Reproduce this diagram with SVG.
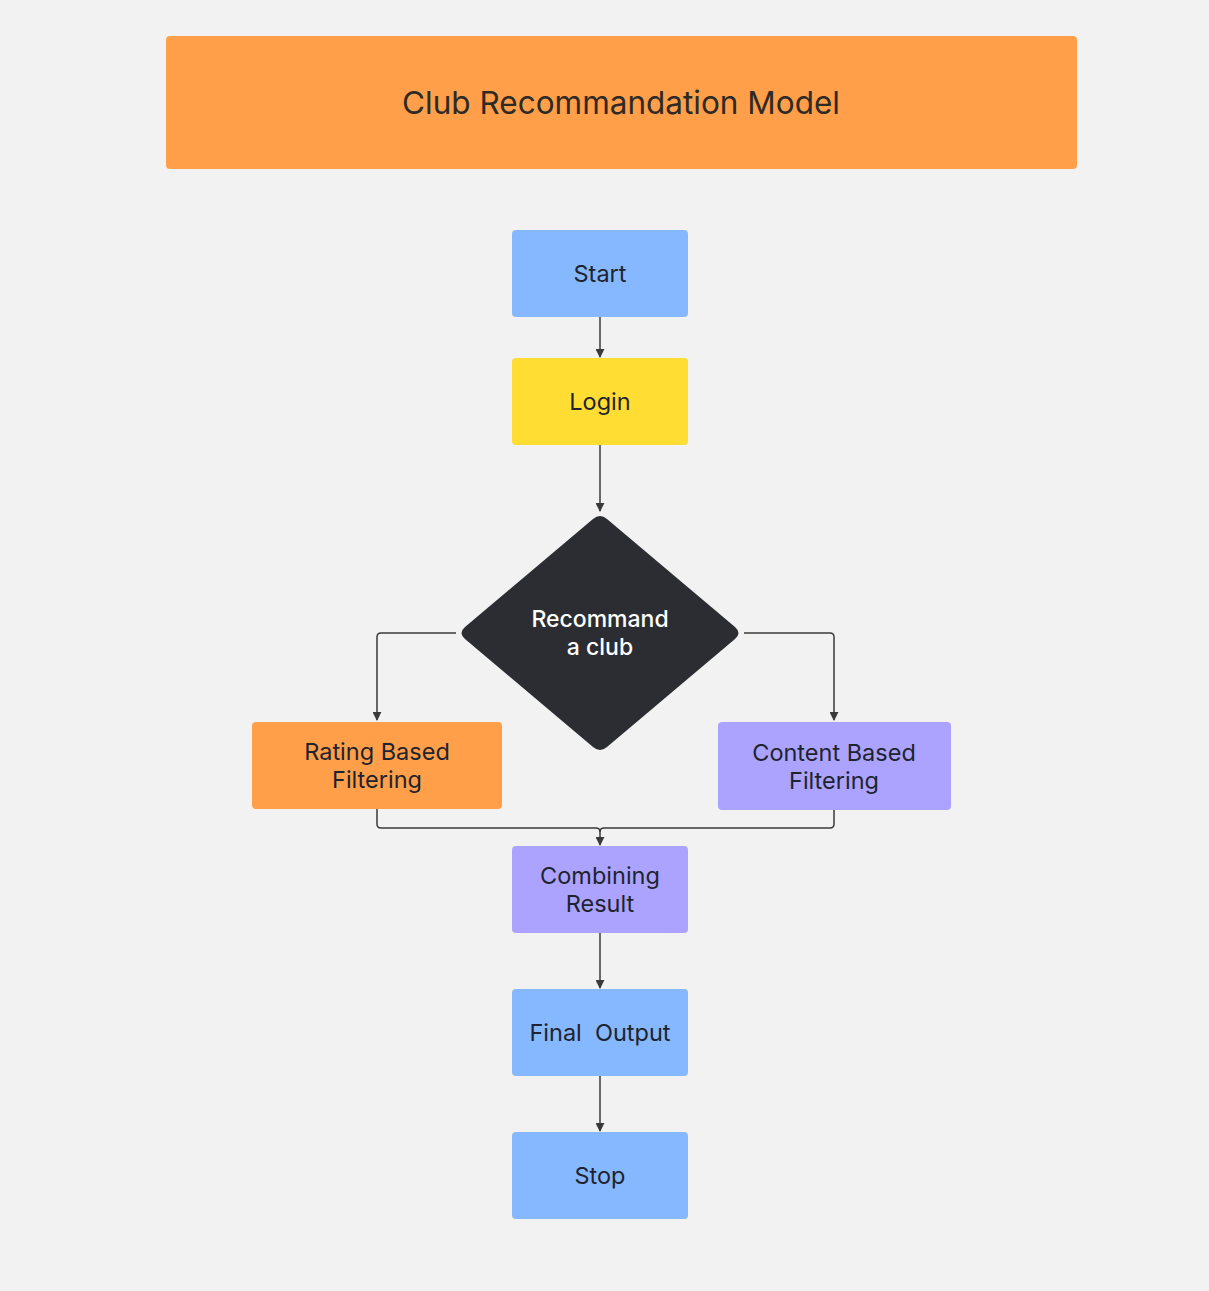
<svg xmlns="http://www.w3.org/2000/svg" width="1209" height="1291" viewBox="0 0 1209 1291">
<defs>
<style>
.lbl{font-family:Inter,"Open Sans","Liberation Sans",sans-serif;font-size:23.5px;fill:#1e232d;text-anchor:middle}
.ttl{font-family:Inter,"Open Sans","Liberation Sans",sans-serif;font-size:31.5px;fill:#2e2a25;text-anchor:middle}
.wht{font-family:Inter,"Open Sans","Liberation Sans",sans-serif;font-size:23px;font-weight:500;fill:#ffffff;text-anchor:middle}
.conn{fill:none;stroke:#3a3a3a;stroke-width:1.5}
.blue{fill:#86b8ff}
.yel{fill:#ffdd33}
.org{fill:#ff9f4a}
.pur{fill:#aba3ff}
</style>
<marker id="arr" viewBox="0 0 10 10" refX="9" refY="5" markerWidth="9" markerHeight="9" markerUnits="userSpaceOnUse" orient="auto">
<path d="M0,0 L10,5 L0,10 z" fill="#3a3a3a"/>
</marker>
</defs>
<rect width="1209" height="1291" fill="#f2f2f2"/>
<g id="title">
<rect x="166" y="36" width="911" height="133" rx="4" class="org"/>
<text x="621" y="114" class="ttl">Club Recommandation Model</text>
</g>
<g id="connectors">
<path class="conn" d="M600,317 V357" marker-end="url(#arr)"/>
<path class="conn" d="M600,445 V511" marker-end="url(#arr)"/>
<path class="conn" d="M456,633 H381 Q377,633 377,637 V720" marker-end="url(#arr)"/>
<path class="conn" d="M744,633 H830 Q834,633 834,637 V720" marker-end="url(#arr)"/>
<path class="conn" d="M377,809 V824 Q377,828 381,828 H596 Q600,828 600,832 V845" marker-end="url(#arr)"/>
<path class="conn" d="M834,810 V824 Q834,828 830,828 H604 Q600,828 600,832"/>
<path class="conn" d="M600,933 V988" marker-end="url(#arr)"/>
<path class="conn" d="M600,1076 V1131" marker-end="url(#arr)"/>
</g>
<g id="start">
<rect x="512" y="230" width="176" height="87" rx="4" class="blue"/>
<text x="600" y="282" class="lbl">Start</text>
</g>
<g id="login">
<rect x="512" y="358" width="176" height="87" rx="4" class="yel"/>
<text x="600" y="410" class="lbl">Login</text>
</g>
<g id="decision">
<path d="M593,519 Q600,513 607,519 L735,627 Q742,633 735,639 L607,747 Q600,753 593,747 L465,639 Q458,633 465,627 Z" fill="#2b2d33"/>
<text x="600" y="627" class="wht">Recommand</text>
<text x="600" y="655" class="wht">a club</text>
</g>
<g id="rating">
<rect x="252" y="722" width="250" height="87" rx="4" class="org"/>
<text x="377" y="760" class="lbl">Rating Based</text>
<text x="377" y="788" class="lbl">Filtering</text>
</g>
<g id="content">
<rect x="718" y="722" width="233" height="88" rx="4" class="pur"/>
<text x="834" y="761" class="lbl">Content Based</text>
<text x="834" y="789" class="lbl">Filtering</text>
</g>
<g id="combining">
<rect x="512" y="846" width="176" height="87" rx="4" class="pur"/>
<text x="600" y="884" class="lbl">Combining</text>
<text x="600" y="912" class="lbl">Result</text>
</g>
<g id="final">
<rect x="512" y="989" width="176" height="87" rx="4" class="blue"/>
<text x="600" y="1041" class="lbl" xml:space="preserve">Final  Output</text>
</g>
<g id="stop">
<rect x="512" y="1132" width="176" height="87" rx="4" class="blue"/>
<text x="600" y="1184" class="lbl">Stop</text>
</g>
</svg>
